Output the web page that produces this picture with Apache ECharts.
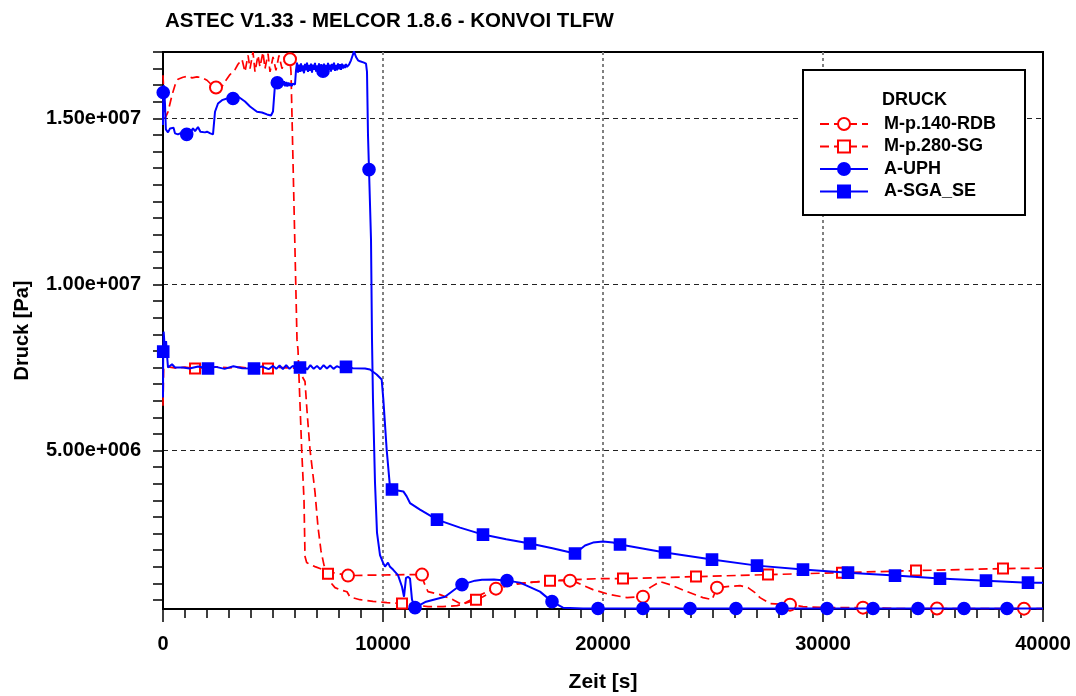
<!DOCTYPE html>
<html>
<head>
<meta charset="utf-8">
<script src="https://cdn.jsdelivr.net/npm/echarts@6/dist/echarts.min.js"></script>
<style>
  html, body { margin: 0; padding: 0; background: #fff; }
  #chart { width: 1076px; height: 696px; }
</style>
</head>
<body>
<div id="chart"></div>
<script>
// Pressure histories (time in s, pressure in Pa)
const FONT = '"Liberation Sans", Arial, Helvetica, sans-serif';
const titleText = 'ASTEC V1.33 - MELCOR 1.8.6 - KONVOI TLFW';
const xAxisName = 'Zeit [s]';
const yAxisName = 'Druck [Pa]';
const legendTitle = 'DRUCK';
const seriesNames = ['M-p.140-RDB', 'M-p.280-SG', 'A-UPH', 'A-SGA_SE'];
const xMin = 0, xMax = 40000, xLabelStep = 10000;
const xGridValues = [10000, 20000, 30000];
const yMin = 2.3e5, yMax = 1.7e7;
const yLabelValues = [5e6, 1e7, 1.5e7];

// MELCOR: pressure, reactor vessel (p.140)
const rdbPoints = [
  [0,1.63e7],[91,1.50e7],[227,1.52e7],[409,1.57e7],[545,1.60e7],[682,1.618e7],[909,1.624e7],
  [1136,1.627e7],[1318,1.622e7],[1545,1.625e7],[1773,1.623e7],[2000,1.615e7],[2227,1.60e7],
  [2409,1.593e7],[2682,1.596e7],[2818,1.611e7],[3045,1.632e7],[3273,1.647e7],[3409,1.663e7],
  [3591,1.678e7],[3727,1.64e7],[3864,1.69e7],[3955,1.65e7],[4091,1.70e7],[4182,1.64e7],
  [4318,1.69e7],[4409,1.655e7],[4545,1.70e7],[4636,1.65e7],[4773,1.695e7],[4864,1.64e7],
  [5000,1.685e7],[5136,1.645e7],[5273,1.69e7],[5409,1.65e7],[5545,1.675e7],[5773,1.678e7],
  [5818,1.64e7],[6091,8.34e6],[6136,8.04e6],[6304,5.03e6],[6409,3.52e6],[6455,1.81e6],
  [6530,1.63e6],[6682,1.566e6],[6909,1.506e6],[7500,1.355e6],[8409,1.235e6],[9500,1.25e6],
  [10500,1.26e6],[11364,1.265e6],[11773,1.265e6],[11864,1.024e6],[12045,7.53e5],[12591,6.63e5],
  [13182,5.12e5],[13591,3.61e5],[14182,5.72e5],[14636,7.23e5],[15136,8.43e5],[15636,9.64e5],
  [16545,1.024e6],[17591,1.084e6],[18500,1.084e6],[18818,1.024e6],[19545,8.13e5],[20318,6.63e5],
  [21091,5.72e5],[21818,6.02e5],[22136,8.73e5],[22591,1.054e6],[23045,9.64e5],[23818,7.53e5],
  [24545,5.72e5],[24955,5.12e5],[25182,8.73e5],[25636,9.04e5],[26227,9.34e5],[26591,8.73e5],
  [26909,7.23e5],[27136,5.72e5],[27591,3.92e5],[28500,3.61e5],[29091,3.01e5],[30182,2.71e5],
  [31818,2.71e5],[33182,2.45e5],[35182,2.45e5],[39136,2.4e5],[40000,2.4e5]
];
const rdbMarkers = [2409,5773,8409,11773,15136,18500,21818,25182,28500,31818,35182,39136];

// MELCOR: pressure, steam generator (p.280)
const sgPoints = [
  [0,6.35e6],[30,7.5e6],[227,7.52e6],[600,7.48e6],[1000,7.51e6],[1455,7.47e6],[2000,7.5e6],
  [2500,7.52e6],[3000,7.49e6],[3500,7.51e6],[4000,7.48e6],[4773,7.47e6],[5200,7.51e6],
  [5600,7.49e6],[6000,7.48e6],[6182,7.40e6],[6455,7.08e6],[6545,6.20e6],[6682,5.03e6],
  [6909,3.75e6],[7045,2.70e6],[7182,1.98e6],[7318,1.55e6],[7500,1.295e6],[7591,1.05e6],
  [7818,8.73e5],[8045,8.1e5],[8364,7.5e5],[8500,5.9e5],[8955,5.1e5],[9545,4.6e5],[10182,4.2e5],
  [10864,3.92e5],[11364,3.6e5],[12045,3.0e5],[12727,3.0e5],[13364,3.3e5],[13818,4.2e5],
  [14227,5.1e5],[14545,6.0e5],[15000,7.6e5],[15636,9.3e5],[16545,1.02e6],[17591,1.084e6],
  [18500,1.11e6],[19864,1.145e6],[20909,1.145e6],[22591,1.175e6],[24227,1.205e6],[27500,1.265e6],
  [30864,1.325e6],[34227,1.386e6],[38182,1.446e6],[40000,1.46e6]
];
const sgMarkers = [1455,4773,7500,10864,14227,17591,20909,24227,27500,30864,34227,38182];

// ASTEC: pressure, upper plenum
const uphPoints = [
  [0,1.48e7],[10,1.578e7],[40,1.60e7],[90,1.545e7],[130,1.467e7],[227,1.458e7],[320,1.47e7],
  [409,1.464e7],[480,1.472e7],[545,1.455e7],[682,1.452e7],[773,1.455e7],[1077,1.452e7],
  [1250,1.458e7],[1364,1.47e7],[1455,1.462e7],[1591,1.474e7],[1700,1.46e7],[1773,1.455e7],
  [1909,1.458e7],[2000,1.46e7],[2045,1.462e7],[2150,1.455e7],[2273,1.452e7],[2364,1.52e7],
  [2500,1.545e7],[2682,1.555e7],[2909,1.56e7],[3182,1.56e7],[3409,1.566e7],[3727,1.551e7],
  [3955,1.536e7],[4273,1.52e7],[4500,1.518e7],[4727,1.512e7],[4909,1.509e7],[5000,1.521e7],
  [5091,1.602e7],[5195,1.6075e7],[5300,1.62e7],[5350,1.598e7],[5400,1.615e7],[5450,1.60e7],
  [5500,1.612e7],[5550,1.597e7],[5600,1.61e7],[5650,1.596e7],[5700,1.608e7],[5750,1.598e7],
  [5800,1.606e7],[5850,1.597e7],[5900,1.605e7],[5950,1.60e7],[6000,1.602e7],[6045,1.645e7],
  [6091,1.668e7],[6136,1.638e7],[6182,1.662e7],[6227,1.640e7],[6273,1.666e7],[6318,1.642e7],
  [6364,1.660e7],[6409,1.636e7],[6455,1.664e7],[6500,1.645e7],[6545,1.668e7],[6591,1.640e7],
  [6636,1.661e7],[6682,1.643e7],[6727,1.665e7],[6773,1.638e7],[6818,1.662e7],[6864,1.646e7],
  [6909,1.667e7],[6955,1.641e7],[7000,1.660e7],[7045,1.644e7],[7091,1.666e7],[7136,1.639e7],
  [7182,1.663e7],[7273,1.642e7],[7318,1.665e7],[7364,1.645e7],[7409,1.661e7],[7455,1.640e7],
  [7500,1.667e7],[7545,1.646e7],[7591,1.662e7],[7636,1.641e7],[7682,1.664e7],[7727,1.647e7],
  [7773,1.668e7],[7818,1.643e7],[7864,1.661e7],[7909,1.645e7],[7955,1.666e7],[8000,1.648e7],
  [8045,1.663e7],[8091,1.646e7],[8136,1.665e7],[8182,1.650e7],[8227,1.662e7],[8273,1.652e7],
  [8318,1.664e7],[8364,1.655e7],[8455,1.662e7],[8545,1.675e7],[8682,1.702e7],[8773,1.685e7],
  [8864,1.675e7],[8955,1.672e7],[9045,1.668e7],[9136,1.668e7],[9227,1.665e7],[9273,1.64e7],
  [9318,1.45e7],[9364,1.346e7],[9455,1.135e7],[9500,8.34e6],[9545,6.53e6],[9636,4.04e6],
  [9727,2.53e6],[9864,1.85e6],[10000,1.626e6],[10091,1.506e6],[10227,1.626e6],[10318,1.5e6],
  [10455,1.416e6],[10682,1.25e6],[10864,9.0e5],[10955,6.0e5],[11045,1.17e6],[11136,1.2e6],
  [11227,1.15e6],[11318,5.1e5],[11455,2.7e5],[11955,4.5e5],[12818,6.0e5],[13364,8.7e5],
  [13591,9.64e5],[14182,1.084e6],[14500,1.114e6],[15045,1.12e6],[15636,1.084e6],[16227,1.024e6],
  [17136,7.53e5],[17682,4.52e5],[18182,2.71e5],[19091,2.45e5],[19773,2.45e5],[21818,2.45e5],
  [23955,2.45e5],[26045,2.45e5],[28136,2.45e5],[30182,2.45e5],[32273,2.45e5],[34318,2.45e5],
  [36409,2.45e5],[38364,2.45e5],[40000,2.45e5]
];
const uphMarkers = [10,1077,3182,5195,7273,9364,11455,13591,15636,17682,19773,21818,23955,
  26045,28136,30182,32273,34318,36409,38364];

// ASTEC: pressure, steam generator secondary side
const sgaPoints = [
  [0,6.6e6],[10,7.98e6],[30,8.58e6],[90,7.98e6],[140,8.3e6],[180,7.9e6],[227,7.5e6],[300,7.44e6],
  [409,7.6e6],[545,7.5e6],[909,7.5e6],[1200,7.47e6],[1600,7.53e6],[2045,7.47e6],[2400,7.52e6],
  [2800,7.46e6],[3200,7.54e6],[3600,7.48e6],[4136,7.47e6],[4500,7.53e6],[4800,7.45e6],
  [5000,7.55e6],[5150,7.46e6],[5300,7.56e6],[5450,7.45e6],[5600,7.57e6],[5750,7.46e6],
  [5900,7.55e6],[6050,7.47e6],[6227,7.50e6],[6400,7.56e6],[6550,7.44e6],[6700,7.57e6],
  [6850,7.46e6],[7000,7.55e6],[7150,7.45e6],[7300,7.57e6],[7450,7.47e6],[7600,7.56e6],
  [7750,7.46e6],[7900,7.54e6],[8100,7.48e6],[8318,7.52e6],[8636,7.48e6],[9182,7.47e6],
  [9409,7.44e6],[9712,7.29e6],[9940,7.14e6],[10015,6.54e6],[10167,5.03e6],[10318,3.9e6],
  [10409,3.83e6],[10924,3.77e6],[11076,3.62e6],[11227,3.42e6],[11682,3.22e6],[12455,2.92e6],
  [13500,2.68e6],[14545,2.47e6],[15600,2.33e6],[16682,2.20e6],[17700,2.06e6],[18727,1.90e6],
  [18955,2.02e6],[19182,2.14e6],[19545,2.23e6],[20000,2.26e6],[20455,2.23e6],[20773,2.17e6],
  [22818,1.93e6],[24955,1.717e6],[27000,1.536e6],[29091,1.416e6],[31136,1.325e6],[33273,1.235e6],
  [35318,1.145e6],[37409,1.084e6],[39318,1.024e6],[40000,1.02e6]
];
const sgaMarkers = [10,2045,4136,6227,8318,10409,12455,14545,16682,18727,20773,22818,24955,
  27000,29091,31136,33273,35318,37409,39318];

// minor y ticks every 5e5 Pa
const yTickValues = [];
for (let v = 5e5; v <= yMax + 1; v += 5e5) yTickValues.push(v);

function sciLabel(v) {
  const e = Math.floor(Math.log10(v) + 1e-9);
  const m = v / Math.pow(10, e);
  return m.toFixed(2) + 'e+' + String(e).padStart(3, '0');
}

function lineSeries(name, points, markerTimes, color, dashed, symbol, size, z) {
  const marks = new Set(markerTimes);
  return {
    name: name,
    type: 'line',
    data: points,
    xAxisIndex: 0,
    yAxisIndex: 0,
    symbol: symbol,
    symbolSize: function (val) { return marks.has(val[0]) ? size : 0; },
    showSymbol: true,
    clip: true,
    silent: true,
    z: z,
    lineStyle: { color: color, width: dashed ? 1.7 : 2, type: dashed ? [9, 5] : 'solid' },
    itemStyle: { color: color, borderColor: color, borderWidth: 1.6 }
  };
}

const axisText = { fontFamily: FONT, fontWeight: 'bold', color: '#000' };

const chart = echarts.init(document.getElementById('chart'), null, { renderer: 'canvas' });
chart.setOption({
  animation: false,
  backgroundColor: '#fff',
  title: {
    text: titleText, left: 165, top: 11, padding: 0,
    textStyle: { fontFamily: FONT, fontSize: 20.5, fontWeight: 'bold', color: '#000' }
  },
  grid: {
    left: 163, right: 33, top: 52, bottom: 87,
    outerBoundsMode: 'none', containLabel: false,
    show: true, borderColor: '#000', borderWidth: 2, backgroundColor: 'transparent'
  },
  legend: {
    orient: 'vertical', left: 819, top: 115, padding: 0,
    itemWidth: 48, itemHeight: 15, itemGap: 4.5,
    selectedMode: false, z: 12,
    data: seriesNames,
    textStyle: Object.assign({ fontSize: 18, padding: [0, 0, 0, 11] }, axisText)
  },
  graphic: [
    { type: 'rect', z: 10, shape: { x: 803, y: 70, width: 222, height: 145 },
      style: { fill: '#fff', stroke: '#000', lineWidth: 2 } },
    { type: 'text', z: 11, x: 882, y: 100,
      style: { text: legendTitle, fontFamily: FONT, fontSize: 18, fontWeight: 'bold',
               fill: '#000', verticalAlign: 'middle' } }
  ],
  xAxis: [
    {
      type: 'value', min: xMin, max: xMax, interval: xLabelStep, position: 'bottom',
      name: xAxisName, nameLocation: 'middle', nameGap: 63,
      nameTextStyle: Object.assign({ fontSize: 21 }, axisText),
      axisLine: { show: true, onZero: false, lineStyle: { color: '#000', width: 2 } },
      axisTick: { show: true, length: 13, lineStyle: { color: '#000', width: 1.5 } },
      minorTick: { show: true, splitNumber: 10, length: 9, lineStyle: { color: '#000', width: 1.5 } },
      axisLabel: Object.assign({ fontSize: 20, margin: 25, formatter: function (v) { return String(v); } }, axisText),
      splitLine: { show: false }
    },
    {
      type: 'value', min: xMin, max: xMax, position: 'bottom',
      axisLine: { show: false },
      axisTick: { show: false, customValues: xGridValues },
      axisLabel: { show: false, customValues: xGridValues },
      splitLine: { show: true, lineStyle: { color: '#808080', width: 2, type: [3, 3] } }
    }
  ],
  yAxis: [
    {
      type: 'value', min: yMin, max: yMax, position: 'left',
      name: yAxisName, nameLocation: 'middle', nameGap: 131, nameRotate: 90,
      nameTextStyle: Object.assign({ fontSize: 20 }, axisText),
      axisLine: { show: true, onZero: false, lineStyle: { color: '#000', width: 2 } },
      axisTick: { show: true, length: 10, customValues: yTickValues, lineStyle: { color: '#000', width: 1.5 } },
      axisLabel: Object.assign({ fontSize: 20, margin: 22, customValues: yLabelValues, formatter: sciLabel }, axisText),
      splitLine: { show: false }
    },
    {
      type: 'value', min: yMin, max: yMax, position: 'left',
      axisLine: { show: false },
      axisTick: { show: false, customValues: yLabelValues },
      axisLabel: { show: false, customValues: yLabelValues },
      splitLine: { show: true, lineStyle: { color: '#222', width: 1, type: [5, 4] } }
    }
  ],
  series: [
    lineSeries(seriesNames[0], rdbPoints, rdbMarkers, '#ff0000', true, 'emptyCircle', 12, 2),
    lineSeries(seriesNames[1], sgPoints, sgMarkers, '#ff0000', true, 'emptyRect', 10, 2),
    lineSeries(seriesNames[2], uphPoints, uphMarkers, '#0000ff', false, 'circle', 12, 3),
    lineSeries(seriesNames[3], sgaPoints, sgaMarkers, '#0000ff', false, 'rect', 11, 3)
  ]
});
</script>
</body>
</html>
